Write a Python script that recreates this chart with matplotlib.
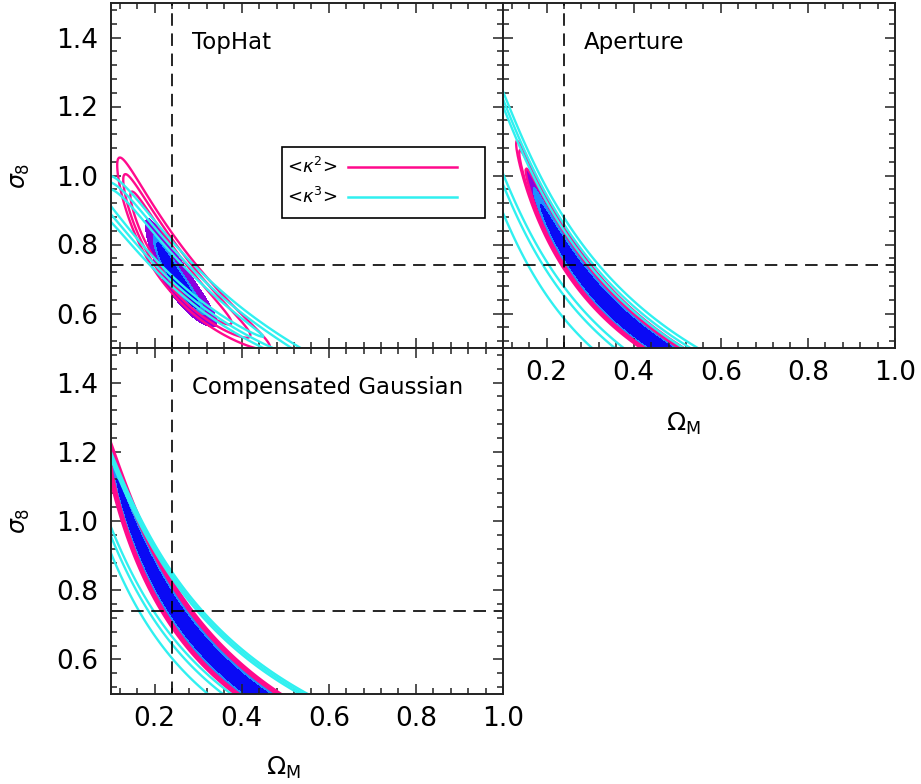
import numpy as np
import matplotlib
matplotlib.use('Agg')
import matplotlib.pyplot as plt
from matplotlib.lines import Line2D
from matplotlib.patches import Rectangle
from matplotlib.ticker import MultipleLocator

plt.rcParams['font.family'] = ['DejaVu Sans']
plt.rcParams['mathtext.fontset'] = 'dejavusans'
plt.rcParams['lines.scale_dashes'] = False

# ---------------- data ----------------
omega_range = [0.1, 1.0]
sigma8_range = [0.5, 1.5]
fiducial_omega = 0.24
fiducial_sigma8 = 0.74
x_ticks = [0.2, 0.4, 0.6, 0.8, 1.0]
y_ticks = [0.6, 0.8, 1.0, 1.2, 1.4]
panel_names = ['TopHat', 'Aperture', 'Compensated Gaussian']
legend_labels = [r'<$\kappa^2$>', r'<$\kappa^3$>']

# degeneracy-band confidence regions, one list per panel and statistic:
# [c0, c1, c2, half_width_up, half_width_down, width_growth,
#  width_frac1_up, width_frac2_up, width_frac1_down, width_frac2_down,
#  t_mid, half_length, end_power, length_frac1, length_frac2]
# band centre: ln s8 = c0 + c1 t + c2 t^2, with t = ln(Omega/0.24)
tophat_k2 = [-0.30, -0.55, -0.07, 0.12, 0.12, 0.0, 0.62, 0.82, 0.62, 0.82, -0.02, 0.68, 2.0, 0.69, 0.85]
tophat_k3 = [-0.301, -0.42, -0.165, 0.09, 0.09, 0.0, 0.50, 0.75, 0.50, 0.75, -0.20, 1.20, 2.0, 0.69, 0.85]
tophat_joint = [-0.324, -0.705, 0.0, 0.10, 0.10, 0.0, 0.42, 0.58, 0.42, 0.58, 0.04, 0.31, 2.0, 0.62, 0.74]

aperture_k2 = [-0.236, -0.619, -0.11, 0.085, 0.085, 0.0, 0.80, 0.90, 0.80, 0.90, 0.40, 1.00, 2.0, 0.85, 0.95]
aperture_k3 = [-0.28, -0.575, -0.167, 0.15, 0.255, 0.2, 0.71, 0.85, 0.43, 0.58, 0.0, 10.0, 2.0, 1.0, 1.0]
aperture_joint = [-0.236, -0.619, -0.11, 0.075, 0.075, 0.0, 0.60, 0.85, 0.60, 0.85, 0.50, 0.94, 2.0, 0.80, 0.90]

compgauss_k2 = [-0.277, -0.62, -0.13, 0.095, 0.095, 0.0, 0.80, 0.90, 0.80, 0.90, 0.50, 1.60, 2.0, 0.85, 0.93]
compgauss_k3 = [-0.295, -0.548, -0.147, 0.136, 0.21, 0.216, 0.84, 0.92, 0.53, 0.69, 0.0, 10.0, 2.0, 1.0, 1.0]
compgauss_joint = [-0.277, -0.62, -0.13, 0.082, 0.082, 0.0, 0.60, 0.85, 0.60, 0.85, 0.50, 1.60, 2.0, 0.78, 0.90]

k2_color = '#FF0A8C'
k3_color = '#30F0F0'
fill_colors = ['#0A0AF5', '#1E90FF', '#8C00DC']   # 1, 2, 3 sigma

PX_X, PX_Y = 435.6, 345.0   # display pixels per data unit


def level_field(p, om, s8, j):
    """<= 1 inside the j-th (0,1,2) confidence region"""
    c0, c1, c2, hu, hd, k, fu1, fu2, fd1, fd2, tm, L, pw, la1, la2 = p
    t = np.log(om / 0.24)
    centre = c0 + c1 * t + c2 * t ** 2
    m = c1 + 2 * c2 * t
    r = np.log(s8) - centre
    scale = 1.0 + k * t
    wu = [fu1, fu2, 1.0][j] * hu * scale
    wd = [fd1, fd2, 1.0][j] * hd * scale
    d = np.where(r >= 0, r / wu, -r / wd)
    at = om * PX_X
    ay = s8 * PX_Y
    s = t + m * r * ay ** 2 / (at ** 2 + (m * ay) ** 2)
    la = [la1, la2, 1.0][j] * L
    return d ** 2 + (np.abs(s - tm) / la) ** pw


om_grid = np.linspace(0.08, 1.0, 360)
s8_grid = np.linspace(0.45, 1.55, 360)
OM, S8 = np.meshgrid(om_grid, s8_grid)

W, H = 921, 784
fig = plt.figure(figsize=(W / 100, H / 100), dpi=100)

def px_axes(x0, y0, x1, y1):
    return fig.add_axes([x0 / W, 1 - y1 / H, (x1 - x0) / W, (y1 - y0) / H])

ax_th = px_axes(111, 3, 503, 348)
ax_ap = px_axes(503, 3, 895, 348)
ax_cg = px_axes(111, 348, 503, 694)

panels = [(ax_th, tophat_k2, tophat_k3, tophat_joint, False, True),
          (ax_ap, aperture_k2, aperture_k3, aperture_joint, True, False),
          (ax_cg, compgauss_k2, compgauss_k3, compgauss_joint, True, True)]

for i, (ax, pk2, pk3, pj, xlab, ylab) in enumerate(panels):
    for j in (2, 1, 0):
        ax.contourf(OM, S8, level_field(pj, OM, S8, j), levels=[-1, 1],
                    colors=[fill_colors[j]], zorder=1)
    for j in range(3):
        ax.contour(OM, S8, level_field(pk2, OM, S8, j), levels=[1],
                   colors=k2_color, linewidths=1.7, zorder=2)
    for j in range(3):
        ax.contour(OM, S8, level_field(pk3, OM, S8, j), levels=[1],
                   colors=k3_color, linewidths=1.7, zorder=3)
    ax.axvline(fiducial_omega, color='black', lw=1.2, dashes=(9, 5.5), zorder=4)
    ax.axhline(fiducial_sigma8, color='black', lw=1.2, dashes=(9, 5.5), zorder=4)
    ax.set_xlim(omega_range)
    ax.set_ylim(sigma8_range)
    ax.set_xticks(x_ticks)
    ax.set_yticks(y_ticks)
    ax.xaxis.set_minor_locator(MultipleLocator(0.04))
    ax.yaxis.set_minor_locator(MultipleLocator(0.04))
    ax.tick_params(which='both', direction='in', top=True, right=True,
                   color='#222222', width=1.1, labelsize=19, pad=9)
    ax.tick_params(which='major', length=7)
    ax.tick_params(which='minor', length=4)
    for s in ax.spines.values():
        s.set_linewidth(1.4)
        s.set_color('#222222')
        s.set_zorder(6)
    if xlab:
        ax.set_xticklabels(['%.1f' % v for v in x_ticks])
    else:
        ax.set_xticklabels([])
    if ylab:
        ax.set_yticklabels(['%.1f' % v for v in y_ticks])
        ax.set_ylabel(r'$\sigma_8$', fontsize=17, labelpad=18)
    else:
        ax.set_yticklabels([])
    ax.text(0.207, 0.885, panel_names[i], transform=ax.transAxes,
            fontsize=16.5, ha='left', va='center', zorder=7)

# x-axis titles
fig.text(283 / W, 1 - 768 / H, r'$\Omega_{\rm M}$', fontsize=18, ha='center', va='center')
fig.text(683 / W, 1 - 424 / H, r'$\Omega_{\rm M}$', fontsize=18, ha='center', va='center')

# legend box in TopHat panel
ax = ax_th
ax.add_patch(Rectangle((0.436, 0.377), 0.518, 0.206, transform=ax.transAxes,
                       facecolor='white', edgecolor='black', lw=1.2, zorder=8))
for yy, lab, col in [(0.525, legend_labels[0], k2_color), (0.438, legend_labels[1], k3_color)]:
    ax.text(0.449, yy, lab, transform=ax.transAxes, fontsize=13,
            ha='left', va='center', zorder=9)
    ax.add_line(Line2D([0.605, 0.883], [yy, yy], transform=ax.transAxes,
                       color=col, lw=1.8, zorder=9))

fig.savefig('out.png', dpi=100)
